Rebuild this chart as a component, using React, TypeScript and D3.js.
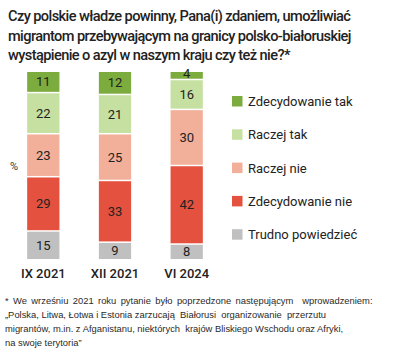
import React from "react";
import * as d3 from "d3";

const periods = ["IX 2021", "XII 2021", "VI 2024"];
const categories = ["Trudno powiedzieć", "Zdecydowanie nie", "Raczej nie", "Raczej tak", "Zdecydowanie tak"];
const trudno = [15, 9, 8];
const zdecNie = [29, 33, 42];
const raczejNie = [23, 25, 30];
const raczejTak = [22, 21, 16];
const zdecTak = [11, 12, 4];
const colors = ["#c0c0c0", "#e4523f", "#f2b09b", "#c6e0a2", "#7cab3e"];
const legendOrder = ["Zdecydowanie tak", "Raczej tak", "Raczej nie", "Zdecydowanie nie", "Trudno powiedzieć"];
const titleLines = [
  "Czy polskie władze powinny, Pana(i) zdaniem, umożliwiać",
  "migrantom przebywającym na granicy polsko-białoruskiej",
  "wystąpienie o azyl w naszym kraju czy też nie?*",
];
const noteLines = [
  "* We wrześniu 2021 roku pytanie było poprzedzone następującym  wprowadzeniem:",
  "„Polska, Litwa, Łotwa i Estonia zarzucają  Białorusi  organizowanie  przerzutu",
  "migrantów, m.in. z Afganistanu, niektórych  krajów Bliskiego Wschodu oraz Afryki,",
  "na swoje terytoria”",
];
const noteWordSpacing = [1.8, 0, 0, 0];

export default function App() {
  const W = 397, H = 355;
  const series = [trudno, zdecNie, raczejNie, raczejTak, zdecTak];
  const rows = periods.map((p, i) => {
    const o: any = { period: p };
    categories.forEach((c, k) => (o[c] = series[k][i]));
    return o;
  });
  const stacked = d3.stack().keys(categories)(rows);
  const x = d3.scaleBand().domain(periods).range([20, 210]).paddingInner(0.55).paddingOuter(0.1);
  const y = d3.scaleLinear().domain([0, 100]).range([259, 72]);
  const color = d3.scaleOrdinal<string, string>().domain(categories).range(colors);
  const gap = 1.5;

  return (
    <svg width={W} height={H} style={{ display: "block", position: "absolute", left: 0, top: 0 }}>
      <rect width={W} height={H} fill="#fff" />
      <g fontFamily="Roboto" fontWeight={500} fontSize={14.6} fill="#222" letterSpacing={-0.6}>
        {titleLines.map((t, i) => (
          <text key={i} x={8} y={21 + i * 19.5}>{t}</text>
        ))}
      </g>
      <text x={14} y={170} fontFamily="Roboto" fontSize={11} fill="#333" textAnchor="middle">%</text>
      {stacked.map((s) => (
        <g key={s.key}>
          {s.map((d, i) => {
            const y0 = y(d[1]);
            const y1 = y(d[0]);
            const v = d[1] - d[0];
            const top = y0 + (d[1] === 100 ? 0 : gap / 2);
            const bot = y1 - (d[0] === 0 ? 0 : gap / 2);
            return (
              <g key={i}>
                <rect x={x(periods[i])} y={top} width={x.bandwidth()} height={Math.max(0, bot - top)} fill={color(s.key)} />
                <text
                  x={(x(periods[i]) as number) + x.bandwidth() / 2}
                  y={v < 6 ? top + 6 : (top + bot) / 2 + 4.5}
                  textAnchor="middle"
                  fontFamily="Roboto"
                  fontSize={13}
                  fill="#222"
                >
                  {v}
                </text>
              </g>
            );
          })}
        </g>
      ))}
      {periods.map((p) => (
        <text key={p} x={(x(p) as number) + x.bandwidth() / 2} y={278} textAnchor="middle" fontFamily="Roboto" fontWeight={500} fontSize={13} fill="#222">
          {p}
        </text>
      ))}
      {legendOrder.map((c, i) => (
        <g key={c} transform={`translate(232, ${96 + i * 33.3})`}>
          <rect width={10.5} height={10.5} fill={color(c)} />
          <text x={16} y={10} fontFamily="Roboto" fontSize={13} fill="#222">{c}</text>
        </g>
      ))}
      <g fontFamily="Liberation Sans" fontSize={9.4} fill="#2a2a2a">
        {noteLines.map((t, i) => (
          <text key={i} x={5} y={304 + i * 14} wordSpacing={noteWordSpacing[i]} style={{ whiteSpace: "pre" }}>{t}</text>
        ))}
      </g>
    </svg>
  );
}
